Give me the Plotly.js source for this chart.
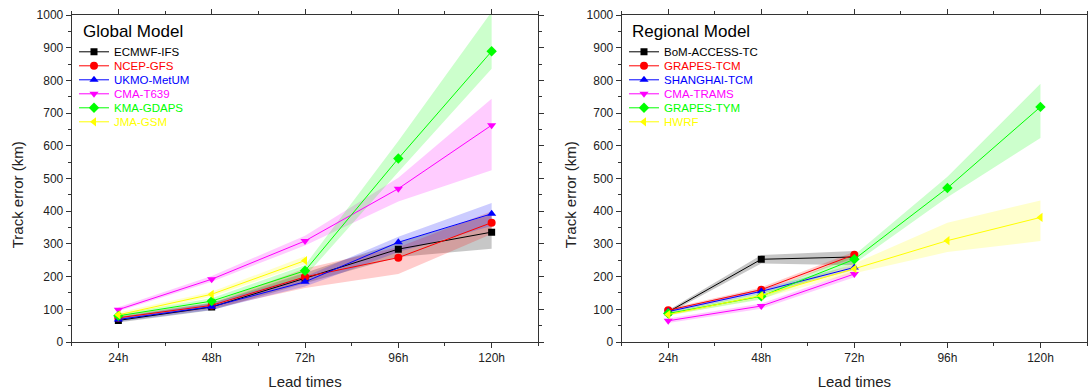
<!DOCTYPE html>
<html>
<head>
<meta charset="utf-8">
<script src="https://cdn.plot.ly/plotly-3.0.1.min.js"></script>
<style>html,body{margin:0;padding:0;background:#fff;}#chart{width:1088px;height:391px;}</style>
</head>
<body>
<div id="chart"></div>
<script>
// ---- data ----
const leads = [24, 48, 72, 96, 120];
const tickLabels = ['24h', '48h', '72h', '96h', '120h'];

// Global models
const globalNames = ['ECMWF-IFS', 'NCEP-GFS', 'UKMO-MetUM', 'CMA-T639', 'KMA-GDAPS', 'JMA-GSM'];
const ecmwf    = [66, 107, 195, 284, 336];
const ecmwfLo  = [60, 97, 180, 260, 285];
const ecmwfHi  = [76, 118, 212, 305, 390];
const ncep     = [74, 112, 199, 258, 365];
const ncepLo   = [68, 102, 165, 208, 330];
const ncepHi   = [82, 120, 225, 290, 400];
const ukmo     = [69, 108, 184, 305, 392];
const ukmoLo   = [63, 98, 170, 275, 355];
const ukmoHi   = [77, 120, 200, 322, 425];
const t639     = [99, 192, 309, 469, 663];
const t639Lo   = [94, 184, 295, 430, 525];
const t639Hi   = [106, 202, 325, 502, 744];
const kma      = [80, 125, 218, 561, 889];
const kmaLo    = [74, 117, 200, 520, 836];
const kmaHi    = [86, 134, 235, 615, 1010];
const jma      = [83, 146, 249];
const jmaLo    = [78, 138, 238];
const jmaHi    = [90, 154, 262];

// Regional models
const regionalNames = ['BoM-ACCESS-TC', 'GRAPES-TCM', 'SHANGHAI-TCM', 'CMA-TRAMS', 'GRAPES-TYM', 'HWRF'];
const bom      = [92, 253, 260];
const bomLo    = [87, 240, 235];
const bomHi    = [97, 266, 278];
const gtcm     = [97, 160, 267];
const gtcmLo   = [92, 153, 258];
const gtcmHi   = [102, 167, 276];
const shtcm    = [93, 155, 228];
const shtcmLo  = [88, 148, 220];
const shtcmHi  = [98, 162, 236];
const trams    = [65, 110, 208];
const tramsLo  = [58, 102, 198];
const tramsHi  = [72, 118, 218];
const gtym     = [87, 140, 253, 471, 719];
const gtymLo   = [82, 130, 240, 443, 624];
const gtymHi   = [92, 150, 266, 505, 790];
const hwrf     = [84, 142, 224, 310, 381];
const hwrfLo   = [80, 133, 210, 275, 309];
const hwrfHi   = [90, 148, 240, 365, 433];

// ---- styles ----
const colors  = ['#000000', '#ff0000', '#0000ff', '#ff00ff', '#00ff00', '#ffff00'];
const fills   = ['rgba(0,0,0,0.22)', 'rgba(255,0,0,0.2)', 'rgba(0,0,255,0.2)', 'rgba(255,0,255,0.2)', 'rgba(0,255,0,0.2)', 'rgba(255,255,0,0.2)'];
const symbols = ['square', 'circle', 'triangle-up', 'triangle-down', 'diamond', 'triangle-left'];
const sizes   = [7, 8, 8, 8, 8, 8];

const globalSeries = [[ecmwf, ecmwfLo, ecmwfHi], [ncep, ncepLo, ncepHi], [ukmo, ukmoLo, ukmoHi],
                      [t639, t639Lo, t639Hi], [kma, kmaLo, kmaHi], [jma, jmaLo, jmaHi]];
const regionalSeries = [[bom, bomLo, bomHi], [gtcm, gtcmLo, gtcmHi], [shtcm, shtcmLo, shtcmHi],
                        [trams, tramsLo, tramsHi], [gtym, gtymLo, gtymHi], [hwrf, hwrfLo, hwrfHi]];

const FONT = 'Liberation Sans, Arial, sans-serif';
const bands = [], lines = [];
const layout = {
  width: 1088, height: 391,
  margin: {l: 0, r: 0, t: 15, b: 49, pad: 0},
  paper_bgcolor: '#fff', plot_bgcolor: '#fff',
  font: {family: FONT, size: 12, color: '#222'},
  annotations: []
};

function panel(names, series, xa, ya, legendStart, legendX) {
  series.forEach((s, i) => {
    const n = s[0].length;
    const xs = leads.slice(0, n);
    bands.push({
      x: xs.concat(xs.slice().reverse()),
      y: s[2].concat(s[1].slice().reverse()),
      xaxis: xa, yaxis: ya, type: 'scatter', mode: 'lines', fill: 'toself',
      fillcolor: fills[i], line: {width: 0}, hoverinfo: 'skip', showlegend: false
    });
    const lg = 'legend' + (legendStart + i === 1 ? '' : (legendStart + i));
    lines.push({
      x: xs, y: s[0], name: names[i], xaxis: xa, yaxis: ya, type: 'scatter',
      mode: 'lines+markers', legend: lg, showlegend: true,
      line: {color: colors[i], width: 1},
      marker: {color: colors[i], symbol: symbols[i], size: sizes[i]}
    });
    layout[lg] = {
      x: legendX, xanchor: 'left', y: (341.7 - (51.5 + 14 * i)) / 327, yanchor: 'middle',
      bgcolor: 'rgba(0,0,0,0)', borderwidth: 0,
      font: {family: FONT, size: 11.5, color: colors[i]}
    };
  });
}
panel(globalNames, globalSeries, 'x', 'y', 1, 74 / 1088);
panel(regionalNames, regionalSeries, 'x2', 'y2', 7, 624 / 1088);

function xAxis(domain, anchor) {
  return {
    domain: domain, anchor: anchor, range: [12, 132],
    tickmode: 'array', tickvals: leads, ticktext: tickLabels,
    ticks: 'outside', ticklen: 5, tickwidth: 1, tickcolor: '#333',
    minor: {dtick: 12, tick0: 0, ticks: 'outside', ticklen: 3, tickcolor: '#333', showgrid: false},
    showline: true, linecolor: '#333', linewidth: 1, mirror: 'ticks',
    showgrid: false, zeroline: false, tickfont: {size: 12, color: '#222'},
    title: {text: 'Lead times', font: {size: 15, color: '#222'}, standoff: 12}
  };
}
function yAxis(anchor) {
  return {
    anchor: anchor, range: [0, 1000], dtick: 100, tick0: 0,
    ticks: 'outside', ticklen: 5, tickwidth: 1, tickcolor: '#333',
    minor: {dtick: 50, ticks: 'outside', ticklen: 3, tickcolor: '#333', showgrid: false},
    showline: true, linecolor: '#333', linewidth: 1, mirror: 'ticks',
    showgrid: false, zeroline: false, tickfont: {size: 12, color: '#222'}
  };
}
layout.xaxis = xAxis([71.7 / 1088, 538.3 / 1088], 'y');
layout.xaxis2 = xAxis([621.7 / 1088, 1087 / 1088], 'y2');
layout.yaxis = yAxis('x');
layout.yaxis2 = yAxis('x2');

layout.annotations.push(
  {text: 'Global Model', xref: 'paper', yref: 'paper', x: 81 / 1088, y: (341.7 - 31) / 327,
   xanchor: 'left', yanchor: 'middle', showarrow: false, font: {size: 17, color: '#000'}},
  {text: 'Regional Model', xref: 'paper', yref: 'paper', x: 630 / 1088, y: (341.7 - 31) / 327,
   xanchor: 'left', yanchor: 'middle', showarrow: false, font: {size: 17, color: '#000'}},
  {text: 'Track error (km)', xref: 'paper', yref: 'paper', x: 17 / 1088, y: (341.7 - 195) / 327,
   xanchor: 'center', yanchor: 'middle', textangle: -90, showarrow: false, font: {size: 15, color: '#222'}},
  {text: 'Track error (km)', xref: 'paper', yref: 'paper', x: 570 / 1088, y: (341.7 - 195) / 327,
   xanchor: 'center', yanchor: 'middle', textangle: -90, showarrow: false, font: {size: 15, color: '#222'}}
);

Plotly.newPlot('chart', bands.concat(lines), layout, {staticPlot: true, displayModeBar: false});
</script>
</body>
</html>
